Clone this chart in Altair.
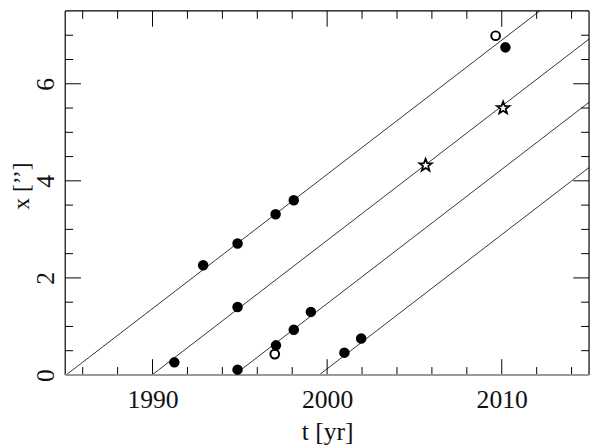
import altair as alt
import pandas as pd

# ---- data ----
filled_t = [1991.25, 1992.9, 1994.87, 1997.05, 1998.09, 1994.87, 1994.87, 1997.07, 1998.09, 1999.07, 2000.99, 2001.95, 2010.21]
filled_x = [0.26, 2.26, 2.71, 3.31, 3.60, 1.40, 0.11, 0.61, 0.93, 1.30, 0.46, 0.75, 6.75]
open_t = [1997.0, 2009.65]
open_x = [0.43, 6.99]
star_t = [2005.64, 2010.08]
star_x = [4.32, 5.50]

line_t0 = [1985.05, 1989.97, 1994.68, 1999.54]   # epochs where x = 0
line_slope = 0.2765                               # arcsec / yr

x_domain = [1985, 2015]
y_domain = [0, 7.5]
x_major = [1990, 2000, 2010]
x_minor = [1986, 1988, 1992, 1994, 1996, 1998, 2002, 2004, 2006, 2008, 2012, 2014]
y_major = [2, 4, 6]
y_minor = [0.5, 1.0, 1.5, 2.5, 3.0, 3.5, 4.5, 5.0, 5.5, 6.5, 7.0]

W, H = 531, 369
FONT = "Liberation Serif"
STAR = ("M0,-1L0.247,-0.34L0.951,-0.309L0.399,0.13L0.588,0.809L0,0.42"
        "L-0.588,0.809L-0.399,0.13L-0.951,-0.309L-0.247,-0.34Z")

# ---- tables ----
filled_df = pd.DataFrame({"t": filled_t, "x": filled_x})
open_df = pd.DataFrame({"t": open_t, "x": open_x})
star_df = pd.DataFrame({"t": star_t, "x": star_x})
t1 = []
x1 = []
for t0 in line_t0:
    te = min(x_domain[1], t0 + y_domain[1] / line_slope)
    t1.append(te)
    x1.append(line_slope * (te - t0))
lines_df = pd.DataFrame({"t": line_t0, "x": [0.0] * len(line_t0), "t1": t1, "x1": x1})
xmaj_df = pd.DataFrame({"t": x_major})
xmin_df = pd.DataFrame({"t": x_minor})
ymaj_df = pd.DataFrame({"x": y_major})
ymin_df = pd.DataFrame({"x": y_minor})
vframe_df = pd.DataFrame({"t": x_domain})
top_df = pd.DataFrame({"x": [y_domain[1]]})
bot_df = pd.DataFrame({"x": [y_domain[0]]})

xs = alt.Scale(domain=x_domain, nice=False, zero=False)
ys = alt.Scale(domain=y_domain, nice=False, zero=False)

x_axis = alt.Axis(values=x_major, format="d", ticks=False, domain=False, grid=False,
                  labelFont=FONT, labelFontSize=26, labelPadding=12, labelColor="#111",
                  title="t [yr]", titleFont=FONT, titleFontSize=26, titleFontWeight="normal",
                  titlePadding=6, titleColor="#111")
y_axis = alt.Axis(values=[0, 2, 4, 6], ticks=False, domain=False, grid=False,
                  labelFont=FONT, labelFontSize=26, labelAngle=270, labelAlign="center",
                  labelBaseline="bottom", labelPadding=7, labelColor="#111",
                  title="x [’’]", titleFont=FONT, titleFontSize=24, titleFontWeight="normal",
                  titleAngle=270, titleAlign="center", titleBaseline="alphabetic",
                  titleX=-37, titleY=177, titleColor="#111")

X = alt.X("t:Q", scale=xs, axis=x_axis)
Y = alt.Y("x:Q", scale=ys, axis=y_axis)

lines = alt.Chart(lines_df).mark_rule(color="black", strokeWidth=0.8).encode(
    x=X, y=Y, x2="t1:Q", y2="x1:Q")

filled = alt.Chart(filled_df).mark_point(shape="circle", filled=True, fill="black", stroke="black",
                                         size=75, opacity=1).encode(x=X, y=Y)
opened = alt.Chart(open_df).mark_point(shape="circle", filled=True, fill="white", stroke="black",
                                       strokeWidth=2, size=78, opacity=1).encode(x=X, y=Y)
stars = alt.Chart(star_df).mark_point(shape=STAR, filled=True, fill="white", stroke="black",
                                      strokeWidth=1.8, size=175, opacity=1).encode(x=X, y=Y)

MAJ, MIN = 16, 8

def xticks(df, L):
    bottom = alt.Chart(df).mark_rule(color="black", strokeWidth=1).encode(
        x=X, y=alt.value(H), y2=alt.value(H - L))
    top = alt.Chart(df).mark_rule(color="black", strokeWidth=1).encode(
        x=X, y=alt.value(0), y2=alt.value(L))
    return [bottom, top]

def yticks(df, L):
    left = alt.Chart(df).mark_rule(color="black", strokeWidth=1).encode(
        y=Y, x=alt.value(0), x2=alt.value(L))
    right = alt.Chart(df).mark_rule(color="black", strokeWidth=1).encode(
        y=Y, x=alt.value(W), x2=alt.value(W - L))
    return [left, right]

frame = [
    alt.Chart(vframe_df).mark_rule(color="black", strokeWidth=1.2).encode(x=X),
    alt.Chart(top_df).mark_rule(color="black", strokeWidth=1.2).encode(y=Y),
    alt.Chart(bot_df).mark_rule(color="#9a9a9a", strokeWidth=2).encode(y=Y),
]

chart = alt.layer(
    lines,
    *xticks(xmaj_df, MAJ), *xticks(xmin_df, MIN),
    *yticks(ymaj_df, MAJ), *yticks(ymin_df, MIN),
    *frame,
    filled, opened, stars,
).properties(
    width=W, height=H,
    padding={"left": 58, "top": 0, "right": 3, "bottom": 70},
    autosize=alt.AutoSizeParams(type="none"),
    background="white",
).configure_view(stroke=None)

chart.save("out.html", embed_options={"renderer": "svg", "actions": False})
